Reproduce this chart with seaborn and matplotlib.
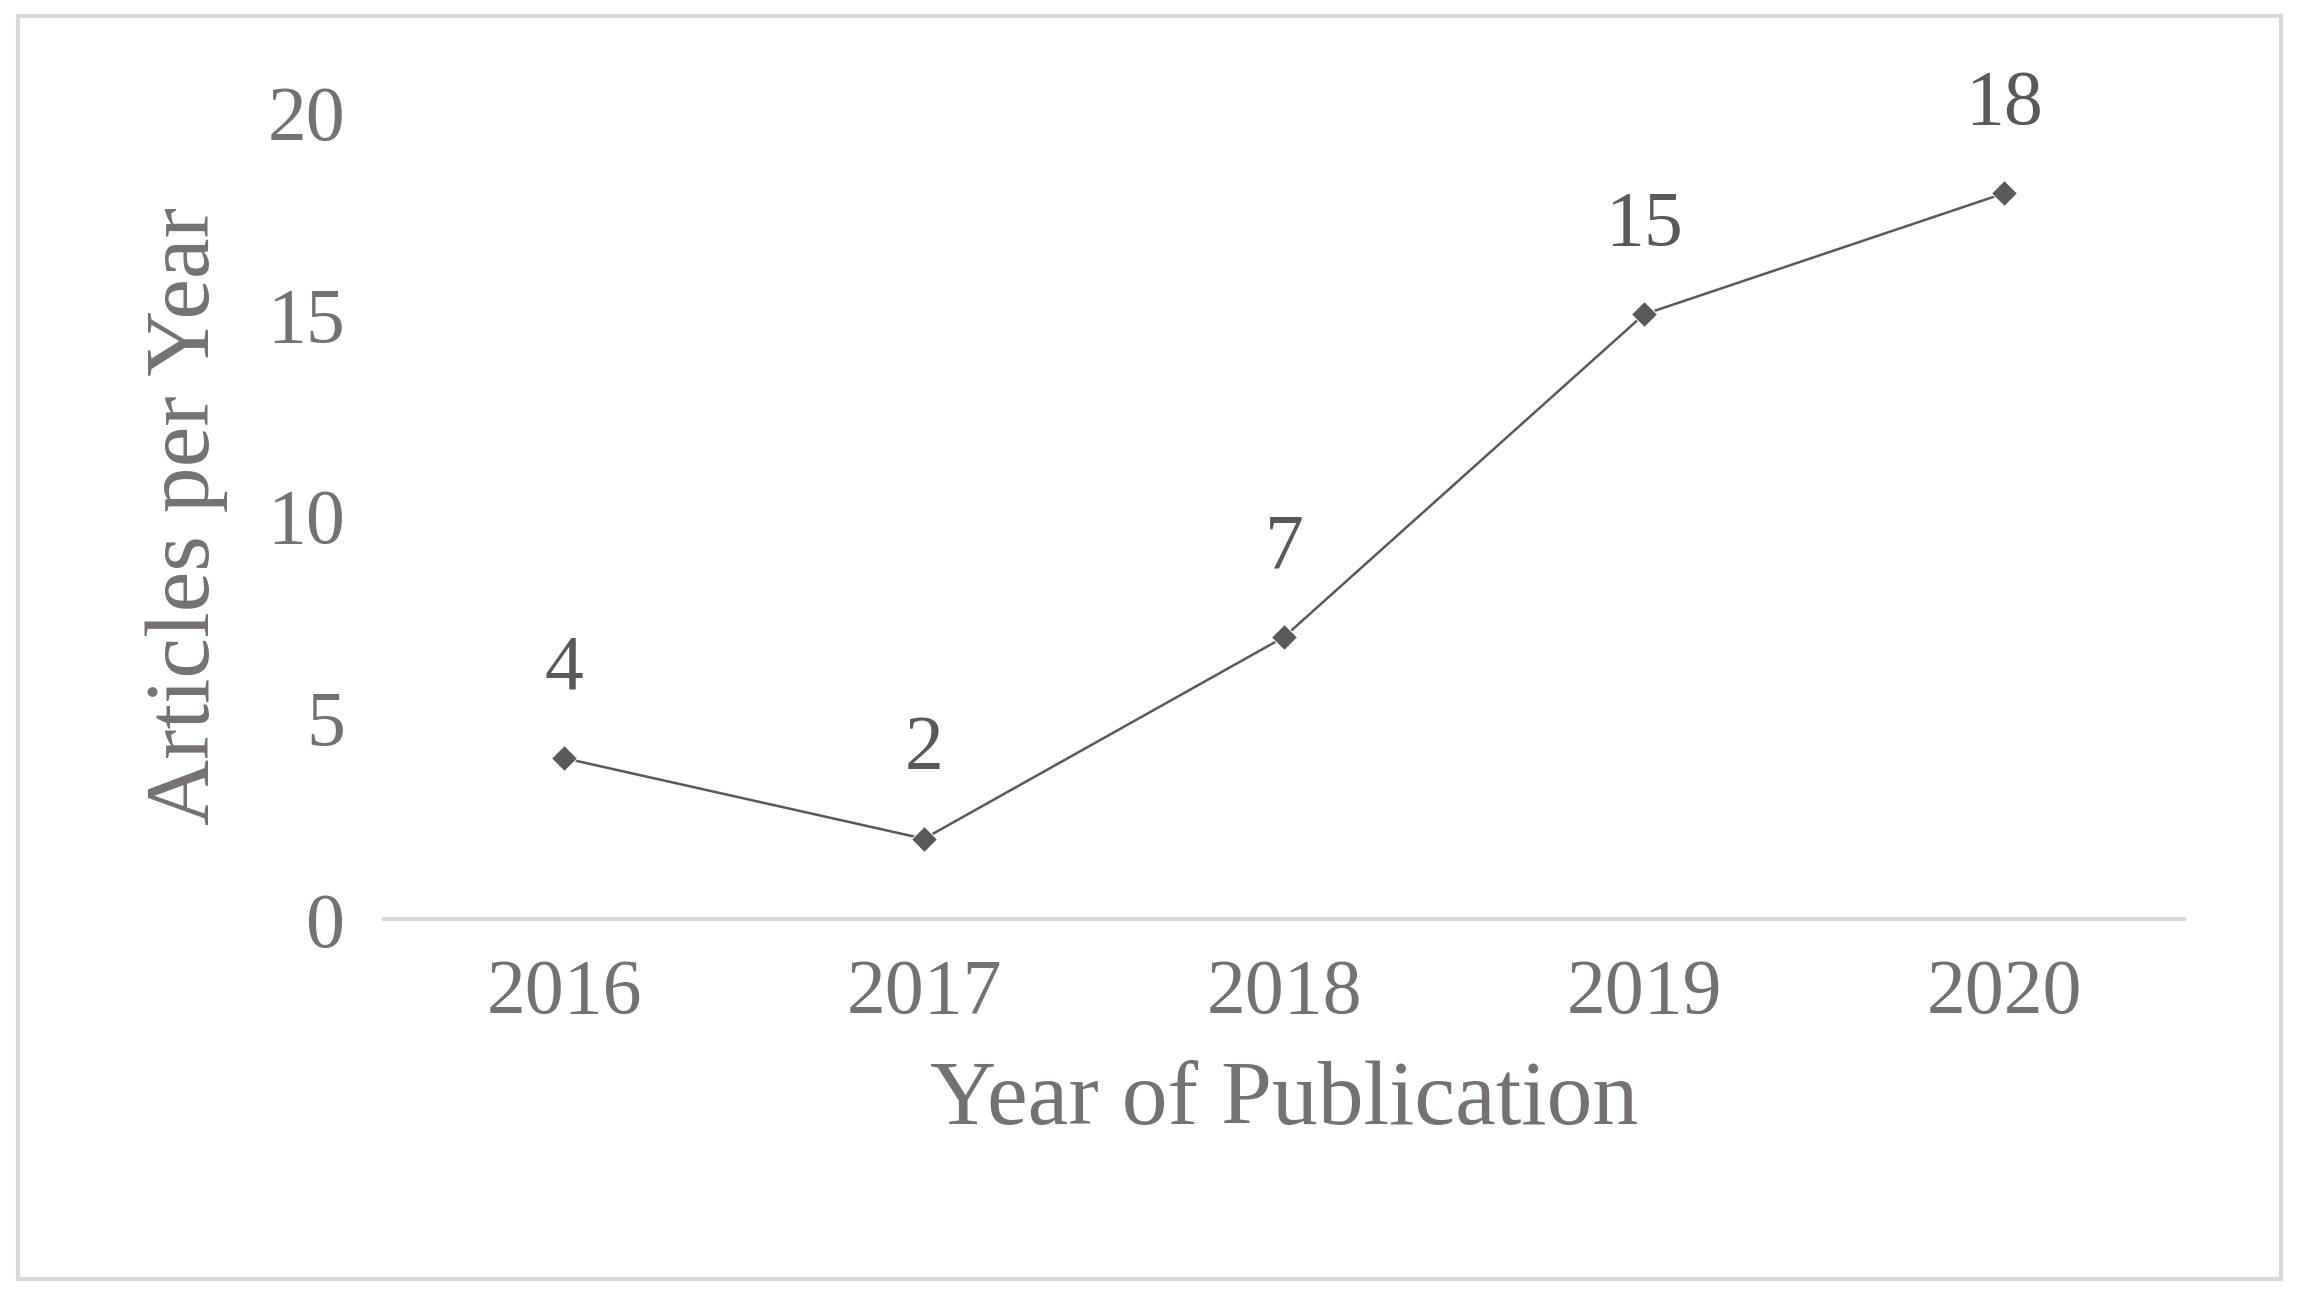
import matplotlib
matplotlib.use("Agg")
import matplotlib.pyplot as plt
import seaborn as sns
import pandas as pd
from matplotlib.patches import Rectangle

years = ["2016", "2017", "2018", "2019", "2020"]
articles = [4, 2, 7, 15, 18]

sns.set_style("white")
plt.rcParams['font.family'] = ['Liberation Serif', 'DejaVu Serif']

grey = '#767171'
df = pd.DataFrame({'Year': years, 'Articles': articles})

fig = plt.figure(figsize=(22.99, 12.95), dpi=100)
ax = fig.add_axes([0.167, 0.29, 0.783, 0.623])
sns.lineplot(data=df, x='Year', y='Articles', ax=ax, color='#595959',
             marker='D', markersize=13, linewidth=1.8, sort=False)

for i, v in enumerate(articles):
    ax.annotate(str(v), (i, v), xytext=(0, 38), textcoords='offset points',
                ha='center', va='bottom', fontsize=56, color='#595959')

ax.set_ylim(0, 20)
ax.set_xlim(-0.5, 4.5)
ax.set_yticks([0, 5, 10, 15, 20])
ax.tick_params(axis='both', labelsize=56, colors=grey, length=0, pad=28)
ax.set_xlabel('Year of Publication', fontsize=66, color=grey, labelpad=22)
ax.set_ylabel('Articles per Year', fontsize=66, color=grey, labelpad=28)
for s in ['top', 'right', 'left']:
    ax.spines[s].set_visible(False)
ax.spines['bottom'].set_color('#d9d9d9')
ax.spines['bottom'].set_linewidth(3)

fig.patches.append(Rectangle((0.008, 0.012), 0.984, 0.976, transform=fig.transFigure,
                             fill=False, edgecolor='#d9d9d9', linewidth=3))

fig.savefig('out.png', dpi=100)
